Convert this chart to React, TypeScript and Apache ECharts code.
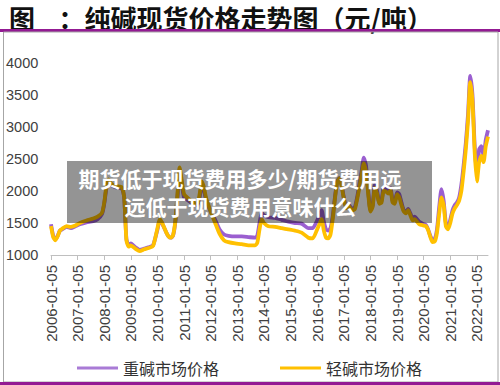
import React, { useEffect, useRef } from "react";
import * as echarts from "echarts";

const TITLE = "图    ：纯碱现货价格走势图（元/吨）";
const OVERLAY_LINE1 = "期货低于现货费用多少/期货费用远";
const OVERLAY_LINE2 = "远低于现货费用意味什么";
const SERIES_NAMES = ["重碱市场价格", "轻碱市场价格"];

// monthly categories 2006-01-05 ... 2022-06-05
const categories: string[] = [];
for (let y = 2006; y <= 2022; y++) {
  for (let m = 1; m <= 12; m++) {
    if (y === 2022 && m > 6) break;
    categories.push(`${y}-${String(m).padStart(2, "0")}-05`);
  }
}

// key points
const keyDates = [
  "2006-01", "2006-02", "2006-03", "2006-04", "2006-05", "2006-06", "2006-08", "2006-10", "2006-12",
  "2007-02", "2007-05", "2007-08", "2007-10", "2007-12",
  "2008-01", "2008-02", "2008-03", "2008-04", "2008-06", "2008-08", "2008-09", "2008-10", "2008-11", "2008-12",
  "2009-01", "2009-03", "2009-05", "2009-07", "2009-09", "2009-11",
  "2010-01", "2010-02", "2010-03", "2010-05", "2010-06", "2010-07", "2010-08", "2010-09", "2010-10", "2010-11", "2010-12",
  "2011-01", "2011-03", "2011-05", "2011-07", "2011-08", "2011-09", "2011-10", "2011-11",
  "2012-01", "2012-03", "2012-05", "2012-07", "2012-09", "2012-12",
  "2013-03", "2013-06", "2013-09", "2013-10", "2013-11", "2013-12",
  "2014-01", "2014-03", "2014-06", "2014-09", "2014-12",
  "2015-03", "2015-06", "2015-09", "2015-11",
  "2016-01", "2016-02", "2016-03", "2016-04", "2016-05", "2016-06", "2016-07", "2016-08", "2016-09", "2016-10", "2016-11", "2016-12",
  "2017-01", "2017-02", "2017-03", "2017-04", "2017-05", "2017-06", "2017-07", "2017-08", "2017-09", "2017-10", "2017-11", "2017-12",
  "2018-01", "2018-02", "2018-03", "2018-04", "2018-05", "2018-06", "2018-07", "2018-08", "2018-09", "2018-10", "2018-11", "2018-12",
  "2019-01", "2019-02", "2019-03", "2019-04", "2019-05", "2019-06", "2019-07", "2019-08", "2019-09", "2019-10", "2019-11", "2019-12",
  "2020-01", "2020-02", "2020-03", "2020-04", "2020-05", "2020-06", "2020-07", "2020-08", "2020-09", "2020-10", "2020-11", "2020-12",
  "2021-01", "2021-02", "2021-03", "2021-04", "2021-05", "2021-06", "2021-07", "2021-08", "2021-09", "2021-10", "2021-11", "2021-12",
  "2022-01", "2022-02", "2022-03", "2022-04", "2022-05", "2022-06",
];

const heavy = [
  1480, 1300, 1240, 1300, 1380, 1400, 1440, 1420, 1450,
  1480, 1510, 1530, 1560, 1640,
  1800, 2050, 2150, 2100, 2060, 2050, 2040, 1900, 1250, 1150,
  1180, 1120, 1080, 1100, 1120, 1150,
  1400, 1540, 1500, 1350, 1290, 1270, 1300, 1500, 1900, 2330, 2100,
  1900, 1850, 1800, 1780, 1900, 2100, 2000, 1850,
  1680, 1550, 1400, 1320, 1300, 1290,
  1290, 1280, 1270, 1300, 1500, 1660,
  1620, 1590, 1580, 1550, 1520,
  1500, 1490, 1420, 1420,
  1540, 1620, 1700, 1520, 1400, 1380, 1420, 1600, 1900, 2150, 2200, 2100,
  1900, 1750, 1800, 1750, 1720, 1750, 1900, 2100, 2300, 2520, 2400, 2000,
  1700, 1780, 2100, 2000, 1820, 1850, 2050, 2030, 2000, 2050, 1850, 1830,
  1980, 1950, 1820, 1700, 1680, 1720, 1650, 1580, 1600, 1560, 1520, 1500,
  1480, 1470, 1400, 1300, 1230, 1250, 1400, 1750, 2030, 1850, 1500, 1450,
  1550, 1700, 1780, 1820, 1900, 2100, 2400, 2750, 3200, 3800, 3500, 2700,
  2250, 2650, 2700, 2550, 2800, 2950,
];

const light = [
  1450, 1280, 1230, 1290, 1380, 1410, 1450, 1440, 1460,
  1500, 1540, 1570, 1600, 1660,
  1820, 2080, 2180, 2120, 2080, 2070, 2060, 1900, 1230, 1130,
  1150, 1100, 1060, 1090, 1110, 1140,
  1420, 1560, 1510, 1350, 1290, 1270, 1310, 1520, 1950, 2370, 2150,
  1950, 1880, 1820, 1800, 1950, 2150, 2050, 1880,
  1680, 1500, 1330, 1230, 1200, 1180,
  1170, 1150, 1150, 1190, 1400, 1560,
  1500, 1450, 1440, 1420, 1400,
  1380, 1350, 1270, 1260,
  1400, 1480, 1560, 1380, 1270, 1260, 1320, 1560, 1880, 2130, 2200, 2080,
  1880, 1730, 1780, 1730, 1700, 1720, 1870, 2050, 2250, 2430, 2300, 1950,
  1680, 1750, 2050, 1960, 1800, 1820, 2000, 1990, 1960, 2010, 1820, 1800,
  1950, 1900, 1780, 1680, 1650, 1700, 1620, 1540, 1560, 1520, 1480, 1470,
  1460, 1450, 1390, 1280, 1200, 1210, 1350, 1650, 1900, 1780, 1450, 1400,
  1500, 1650, 1730, 1780, 1850, 2000, 2300, 2650, 3100, 3700, 3400, 2600,
  2150, 2450, 2550, 2450, 2700, 2850,
];

const yTicks = { min: 1000, max: 4000, interval: 500 };

export default function App() {
  const ref = useRef<HTMLDivElement>(null);
  useEffect(() => {
    if (!ref.current) return;
    const chart = echarts.init(ref.current, null, { renderer: "svg" });
    const heavyData = keyDates.map((d, k) => [d + "-05", heavy[k]]);
    const lightData = keyDates.map((d, k) => [d + "-05", light[k]]);
    chart.setOption({
      animation: false,
      backgroundColor: "#ffffff",
      title: {
        text: TITLE,
        left: 4,
        top: -1,
        textStyle: {
          fontFamily: "Noto Sans CJK SC",
          fontSize: 26,
          fontWeight: "bold",
          color: "#111",
        },
      },
      grid: { left: 51, right: 12, top: 63, bottom: 130, containLabel: false },
      legend: {
        left: 77,
        top: 360,
        padding: 0,
        itemWidth: 41,
        itemHeight: 3,
        itemGap: 61,
        icon: "rect",
        textStyle: { fontFamily: "Noto Sans CJK SC", fontSize: 16, color: "#333" },
        data: SERIES_NAMES,
      },
      xAxis: {
        type: "category",
        data: categories,
        boundaryGap: false,
        axisLine: { lineStyle: { color: "#bfbfbf", width: 1 } },
        axisTick: { interval: 11, length: 5, lineStyle: { color: "#bfbfbf" } },
        axisLabel: {
          interval: 11,
          rotate: 90,
          margin: 10,
          fontFamily: "Liberation Sans",
          fontSize: 15,
          color: "#404040",
        },
        splitLine: { show: false },
      },
      yAxis: {
        type: "value",
        min: yTicks.min,
        max: yTicks.max,
        interval: yTicks.interval,
        axisLine: { show: false },
        axisTick: { show: false },
        splitLine: { show: false },
        axisLabel: {
          align: "left",
          margin: 45,
          fontFamily: "Liberation Sans",
          fontSize: 14.5,
          color: "#404040",
          formatter: (v: number) => String(v),
        },
      },
      series: [
        {
          name: SERIES_NAMES[0],
          type: "line",
          data: heavyData,
          showSymbol: false,
          smooth: 0.2,
          lineStyle: { color: "#9b5fd0", width: 3.8, join: "round" },
          itemStyle: { color: "#a97bd6" },
        },
        {
          name: SERIES_NAMES[1],
          type: "line",
          data: lightData,
          showSymbol: false,
          smooth: 0.2,
          lineStyle: { color: "#ffc000", width: 3.8, join: "round" },
          itemStyle: { color: "#ffc000" },
        },
      ],
      graphic: [
        { type: "rect", z: 50, shape: { x: 0, y: 29, width: 500, height: 3 }, style: { fill: "#931a93" } },
        { type: "rect", z: 50, shape: { x: 3.5, y: 32, width: 494.5, height: 350 }, style: { fill: "none", stroke: "#a6a6a6", lineWidth: 1 } },
        { type: "rect", z: 50, shape: { x: 0, y: 382, width: 500, height: 3 }, style: { fill: "#931a93" } },
        { type: "rect", z: 100, shape: { x: 67, y: 161, width: 365, height: 62 }, style: { fill: "rgba(0,0,0,0.42)" } },
        {
          type: "text", z: 101, x: 240, y: 178,
          style: { text: OVERLAY_LINE1, fill: "#ffffff", fontFamily: "Noto Sans CJK SC", fontSize: 21, fontWeight: "bold", textAlign: "center", textVerticalAlign: "middle" },
        },
        {
          type: "text", z: 101, x: 240, y: 206,
          style: { text: OVERLAY_LINE2, fill: "#ffffff", fontFamily: "Noto Sans CJK SC", fontSize: 21, fontWeight: "bold", textAlign: "center", textVerticalAlign: "middle" },
        },
      ],
    });
    return () => chart.dispose();
  }, []);
  return (
    <div
      ref={ref}
      style={{ position: "fixed", left: 0, top: 0, width: 500, height: 385 }}
    />
  );
}
